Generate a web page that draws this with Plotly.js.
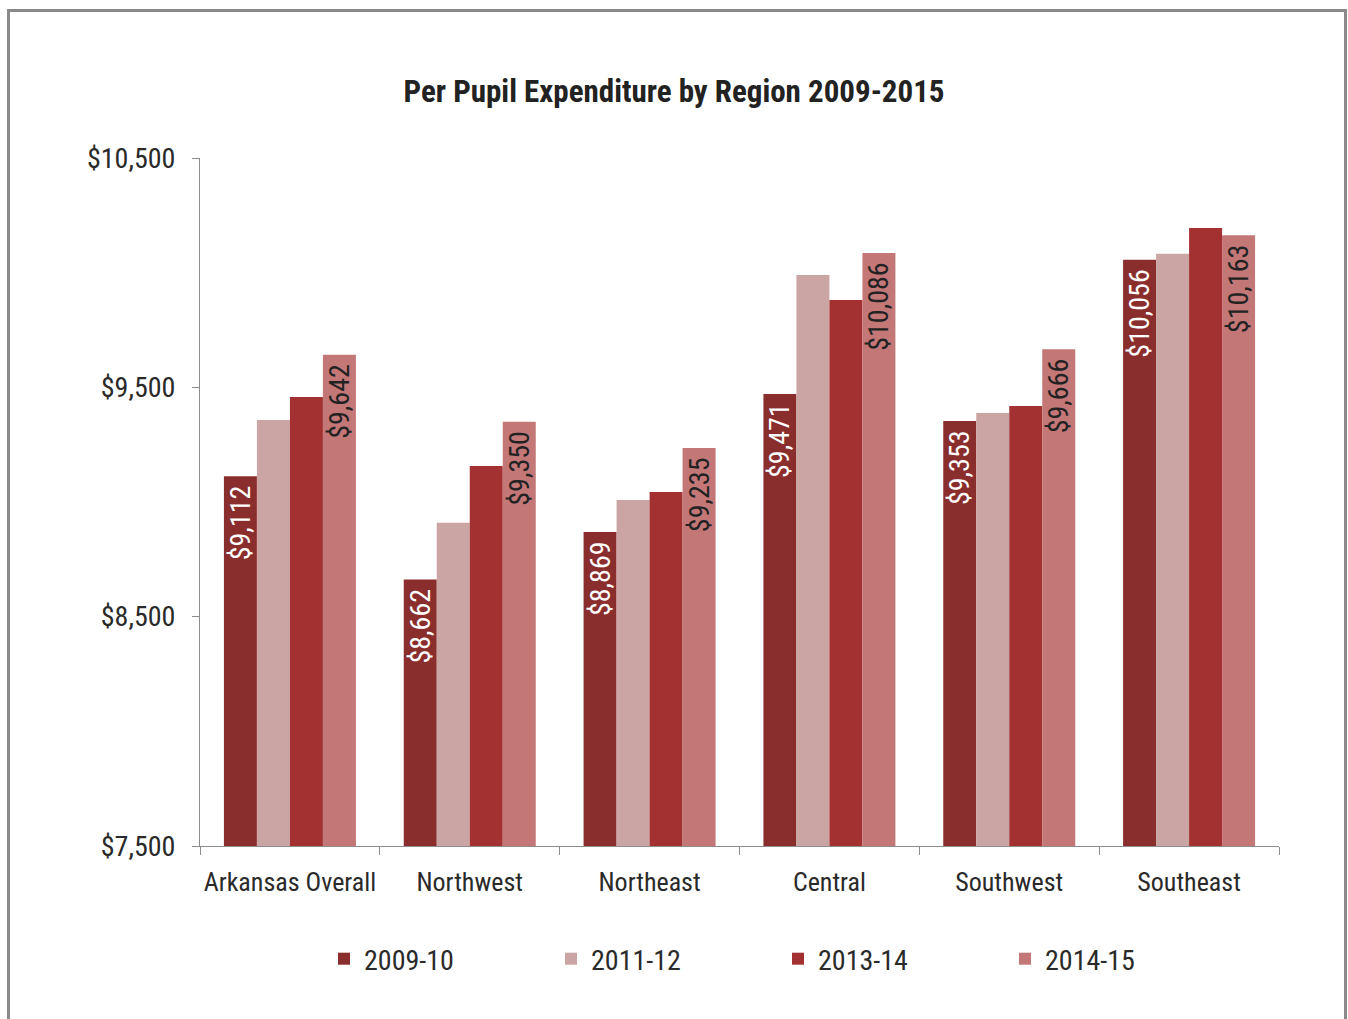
<!DOCTYPE html>
<html>
<head>
<meta charset="utf-8">
<script src="https://cdn.plot.ly/plotly-3.0.1.min.js"></script>
<style>
  html, body { margin: 0; padding: 0; background: #fff; }
  #chart { width: 1348px; height: 1019px; position: absolute; left: 0; top: 0; }
  #frame { position: absolute; left: 7px; top: 9px; width: 1340px; height: 1040px;
           border: 3px solid #8a8a8a; pointer-events: none; box-sizing: border-box; }
</style>
</head>
<body>
<div id="chart"></div>
<div id="frame"></div>
<script>
const categories = ["Arkansas Overall", "Northwest", "Northeast", "Central", "Southwest", "Southeast"];
const seriesNames = ["2009-10", "2011-12", "2013-14", "2014-15"];
const v2009 = [9112, 8662, 8869, 9471, 9353, 10056];
const v2011 = [9358, 8909, 9009, 9990, 9388, 10082];
const v2013 = [9458, 9157, 9044, 9881, 9419, 10195];
const v2014 = [9642, 9350, 9235, 10086, 9666, 10163];
const labeled = [true, false, false, true];
const yTicks = [7500, 8500, 9500, 10500];
const yTickText = ["$7,500", "$8,500", "$9,500", "$10,500"];

const barColors = ["#8a2d2d", "#cba4a4", "#a33131", "#c47777"];
const labelColor = ["#ffffff", "#222222", "#ffffff", "#222222"];
const fontFam = "'Liberation Sans Narrow', 'Arial Narrow', 'Roboto Condensed', 'Liberation Sans', sans-serif";

const allVals = [v2009, v2011, v2013, v2014];
const fmt = v => "$" + v.toLocaleString("en-US") + "\u00a0";

const traces = allVals.map((vals, i) => ({
  type: "bar",
  name: seriesNames[i],
  x: categories,
  y: vals,
  marker: { color: barColors[i], line: { width: 0 } },
  text: labeled[i] ? vals.map(fmt) : vals.map(() => ""),
  textposition: labeled[i] ? "inside" : "none",
  textangle: -90,
  insidetextanchor: "end",
  constraintext: "none",
  insidetextfont: { family: fontFam, size: 28, color: labelColor[i] },
  hoverinfo: "skip"
}));

const layout = {
  width: 1348, height: 1019,
  margin: { l: 200, r: 69, t: 158, b: 173 },
  paper_bgcolor: "rgba(0,0,0,0)",
  plot_bgcolor: "rgba(0,0,0,0)",
  barmode: "group",
  bargap: 0.266,
  bargroupgap: 0,
  font: { family: fontFam, color: "#2a2a2a" },
  title: {
    text: "<b>Per Pupil Expenditure by Region 2009-2015</b>",
    font: { family: fontFam, size: 31, color: "#222" },
    xref: "container", x: 0.5, xanchor: "center",
    yref: "container", y: 1 - 91 / 1019, yanchor: "middle"
  },
  xaxis: {
    type: "category",
    showline: true, linecolor: "#8c8c8c", linewidth: 1,
    ticks: "outside", tickson: "boundaries", ticklen: 8, tickcolor: "#8c8c8c",
    tickfont: { family: fontFam, size: 26, color: "#2a2a2a" },
    tickangle: 0,
    ticklabelstandoff: 13,
    showgrid: false, zeroline: false
  },
  yaxis: {
    range: [7500, 10500],
    tickvals: yTicks, ticktext: yTickText,
    showline: true, linecolor: "#8c8c8c", linewidth: 1,
    ticks: "outside", ticklen: 7, tickcolor: "#8c8c8c",
    tickfont: { family: fontFam, size: 28, color: "#2a2a2a" },
    ticklabelstandoff: 11,
    showgrid: false, zeroline: false
  },
  legend: {
    orientation: "h",
    x: (324 - 200) / 1079, xanchor: "left",
    y: -(959 - 846) / 688, yanchor: "middle",
    entrywidth: 182, entrywidthmode: "pixels",
    itemwidth: 30,
    font: { family: fontFam, size: 28, color: "#2a2a2a" },
    traceorder: "normal"
  },
  showlegend: true
};

Plotly.newPlot("chart", traces, layout, { staticPlot: true, displayModeBar: false });
</script>
</body>
</html>
